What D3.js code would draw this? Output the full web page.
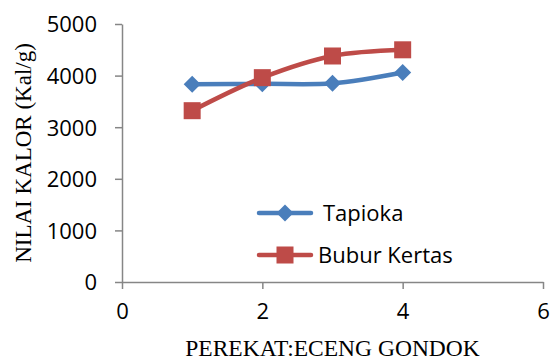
<!DOCTYPE html>
<html><head><meta charset="utf-8">
<script src="https://cdn.jsdelivr.net/npm/d3@7"></script>
<style>body{margin:0;background:#fff}</style>
</head><body>
<svg id="c" width="551" height="362"></svg>
<script>
const xValues = [1, 2, 3, 4];
const tapioka = [3830, 3840, 3850, 4060];
const buburKertas = [3320, 3960, 4380, 4500];
const seriesNames = ["Tapioka", "Bubur Kertas"];
const xTicks = [0, 2, 4, 6];
const yTicks = [0, 1000, 2000, 3000, 4000, 5000];
const colors = ["#4A7EBB", "#BE4B48"];

const svg = d3.select("#c");
const m = {l:122, r:8, t:24, b:80};
const x = d3.scaleLinear().domain([0,6]).range([m.l, 543]);
const y = d3.scaleLinear().domain([0,5000]).range([282, 24]);
const axisColor = "#868686";
const tickFont = "'Open Sans', 'Liberation Sans', sans-serif";
const serif = "'Liberation Serif', 'Times New Roman', serif";

const yAxis = svg.append("g").attr("transform", `translate(${m.l},0)`)
  .call(d3.axisLeft(y).tickValues(yTicks).tickFormat(d3.format("d")).tickSize(7).tickSizeOuter(0).tickPadding(18));
const xAxis = svg.append("g").attr("transform", `translate(0,${y(0)})`)
  .call(d3.axisBottom(x).tickValues(xTicks).tickFormat(d3.format("d")).tickSize(7).tickSizeOuter(0).tickPadding(14));
[yAxis, xAxis].forEach(a => {
  a.attr("font-size", null).attr("font-family", null);
  a.selectAll("path, line").attr("stroke", axisColor).attr("stroke-width", 1.5);
  a.selectAll("text").attr("fill", "#000").style("font-family", tickFont).style("font-size", "22px");
});
yAxis.selectAll("text").attr("dy", "0.36em");

svg.append("text").attr("x", (m.l + 543)/2).attr("y", 356).attr("text-anchor", "middle")
  .style("font-family", serif).style("font-size", "23.5px")
  .text("PEREKAT:ECENG GONDOK");
svg.append("text").attr("transform", `translate(31,${(24+282)/2}) rotate(-90)`).attr("text-anchor", "middle")
  .style("font-family", serif).style("font-size", "23px")
  .text("NILAI KALOR (Kal/g)");

const line = d3.line().x(d => x(d[0])).y(d => y(d[1])).curve(d3.curveCatmullRom.alpha(0.5));
const allSeries = [tapioka, buburKertas];
const diamond = s => `M0,${-s}L${s},0L0,${s}L${-s},0Z`;

allSeries.forEach((vals, i) => {
  const pts = xValues.map((xv, j) => [xv, vals[j]]);
  svg.append("path").attr("d", line(pts)).attr("fill", "none")
    .attr("stroke", colors[i]).attr("stroke-width", 4.5).attr("stroke-linecap", "round");
  pts.forEach(p => {
    if (i === 0) {
      svg.append("path").attr("d", diamond(8.5)).attr("transform", `translate(${x(p[0])},${y(p[1])})`)
        .attr("fill", colors[i]);
    } else {
      svg.append("rect").attr("x", x(p[0]) - 8.5).attr("y", y(p[1]) - 8.5).attr("width", 17).attr("height", 17)
        .attr("fill", colors[i]);
    }
  });
});

// legend
const lg = [{y:213, tx:323}, {y:255, tx:318}];
seriesNames.forEach((name, i) => {
  const ly = lg[i].y;
  svg.append("line").attr("x1", 259).attr("x2", 311).attr("y1", ly).attr("y2", ly)
    .attr("stroke", colors[i]).attr("stroke-width", 4.5).attr("stroke-linecap", "round");
  if (i === 0) svg.append("path").attr("d", diamond(8.5)).attr("transform", `translate(285,${ly})`).attr("fill", colors[i]);
  else svg.append("rect").attr("x", 276.5).attr("y", ly - 8.5).attr("width", 17).attr("height", 17).attr("fill", colors[i]);
  svg.append("text").attr("x", lg[i].tx).attr("y", ly + 8).style("font-family", tickFont).style("font-size", "22px").text(name);
});
</script>
</body></html>
